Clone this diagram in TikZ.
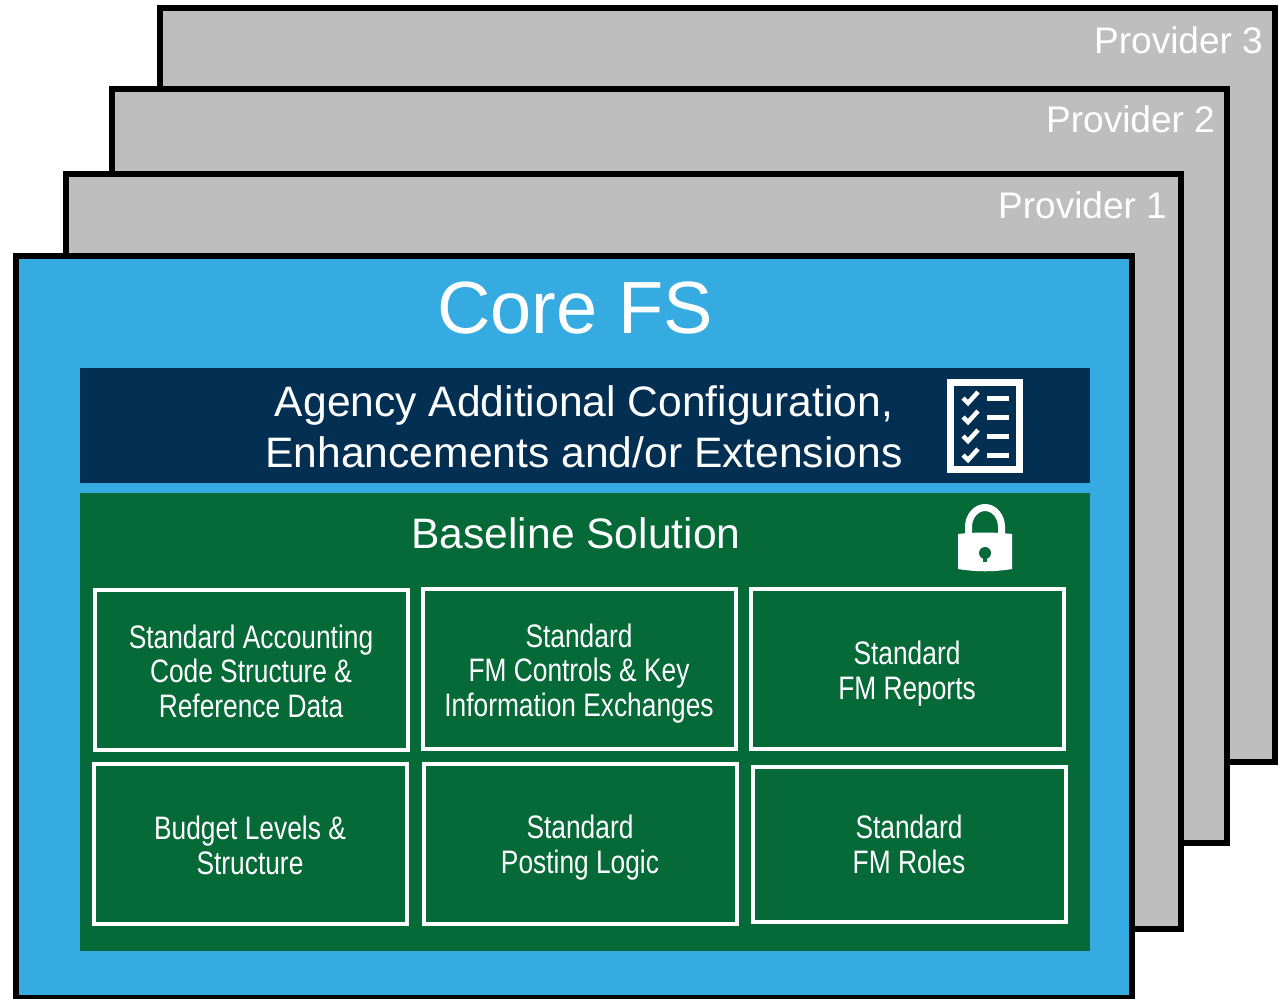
\documentclass[tikz,border=0pt]{standalone}
\usepackage{fontspec}
\setmainfont{Liberation Sans}
\newfontfamily\narrowfont[FakeStretch=0.81]{Liberation Sans}
\definecolor{provgrey}{HTML}{BEBEBE}
\definecolor{coreblue}{HTML}{35ABE2}
\definecolor{navyband}{HTML}{032F53}
\definecolor{greenband}{HTML}{056A37}
\tikzset{
  x=1pt,y=-1pt,
  panel/.style={draw=black,line width=6pt,fill=provgrey,anchor=north west,inner sep=0pt,minimum width=1115pt,minimum height=754pt},
  corepanel/.style={panel,fill=coreblue,minimum width=1116pt,minimum height=742pt},
  provlabel/.style={text=white,font=\fontsize{37}{37}\selectfont,anchor=base east,inner sep=0pt},
  band/.style={anchor=north west,inner sep=0pt,minimum width=1010pt},
  stdbox/.style={draw=white,line width=3.6pt,fill=greenband,anchor=north west,inner sep=0pt,minimum width=313pt,minimum height=160pt},
  stdtext/.style={text=white,inner sep=0pt,anchor=base,align=center,font=\narrowfont\fontsize{32.5}{34.5}\selectfont},
  iconline/.style={draw=white,line width=5pt},
  tick/.style={draw=white,line width=4.5pt,miter limit=10},
}
\begin{document}
\begin{tikzpicture}
\useasboundingbox (0,0) rectangle (1281,998);
\begin{scope}
\clip (0,0) rectangle (1281,998);
\node[panel] (p3) at (157,5) {};
\node[provlabel] (p3t) at (1263,53) {Provider 3};
\node[panel] (p2) at (109,86) {};
\node[provlabel] (p2t) at (1215,132) {Provider 2};
\node[panel,minimum height=755pt] (p1) at (63,171) {};
\node[provlabel] (p1t) at (1167,218) {Provider 1};
\node[corepanel] (core) at (13,253) {};
\node[text=white,inner sep=0pt,anchor=base,font=\fontsize{74}{74}\selectfont] (coret) at (575,333) {Core FS};
\node[band,fill=navyband,minimum height=115pt] (navy) at (80,368) {};
\node[text=white,inner sep=0pt,anchor=base,align=center,font=\fontsize{42.6}{51}\selectfont] (agency) at (584,467) {Agency Additional Configuration,\\Enhancements and/or Extensions};
\node[band,fill=greenband,minimum height=458pt] (green) at (80,493) {};
\node[text=white,inner sep=0pt,anchor=base,font=\fontsize{42.6}{42.6}\selectfont] (base) at (576,548) {Baseline Solution};
\node[stdbox] (a) at (93,588) {};
\node[stdbox] (b) at (421,587) {};
\node[stdbox] (c) at (749,587) {};
\node[stdbox] (d) at (92,762) {};
\node[stdbox] (e) at (422,762) {};
\node[stdbox,minimum height=155pt] (f) at (751,765) {};
\node[stdtext] (at) at (251,717) {Standard Accounting\\Code Structure \&\\Reference Data};
\node[stdtext] (bt) at (579,716) {Standard\\FM Controls \& Key\\Information Exchanges};
\node[stdtext] (ct) at (907,699) {Standard\\FM Reports};
\node[stdtext] (dt) at (250,874) {Budget Levels \&\\Structure};
\node[stdtext] (et) at (580,873) {Standard\\Posting Logic};
\node[stdtext] (ft) at (909,873) {Standard\\FM Roles};
% checklist icon
\draw[white,line width=7pt] (950,382.5) rectangle (1019.5,469.5);
\foreach \yy in {398,417,436,455}{
  \draw[tick] (963,\yy) -- (968,\yy+5) -- (978,\yy-6);
  \draw[iconline] (987,\yy) -- (1009,\yy);
}
% lock icon
\draw[white,line width=7pt] (968.5,540) -- (968.5,527) arc[start angle=180,end angle=0,x radius=16.5,y radius=-19.5] -- (1001.5,540);
\fill[white] (958,534) .. controls (976,532) and (994,532) .. (1012,534) -- (1012,569) .. controls (994,572) and (976,572) .. (958,569) -- cycle;
\fill[greenband] (985,553) circle[radius=6];
\fill[greenband] (983,553) rectangle (987,562);
\end{scope}
\end{tikzpicture}
\end{document}
